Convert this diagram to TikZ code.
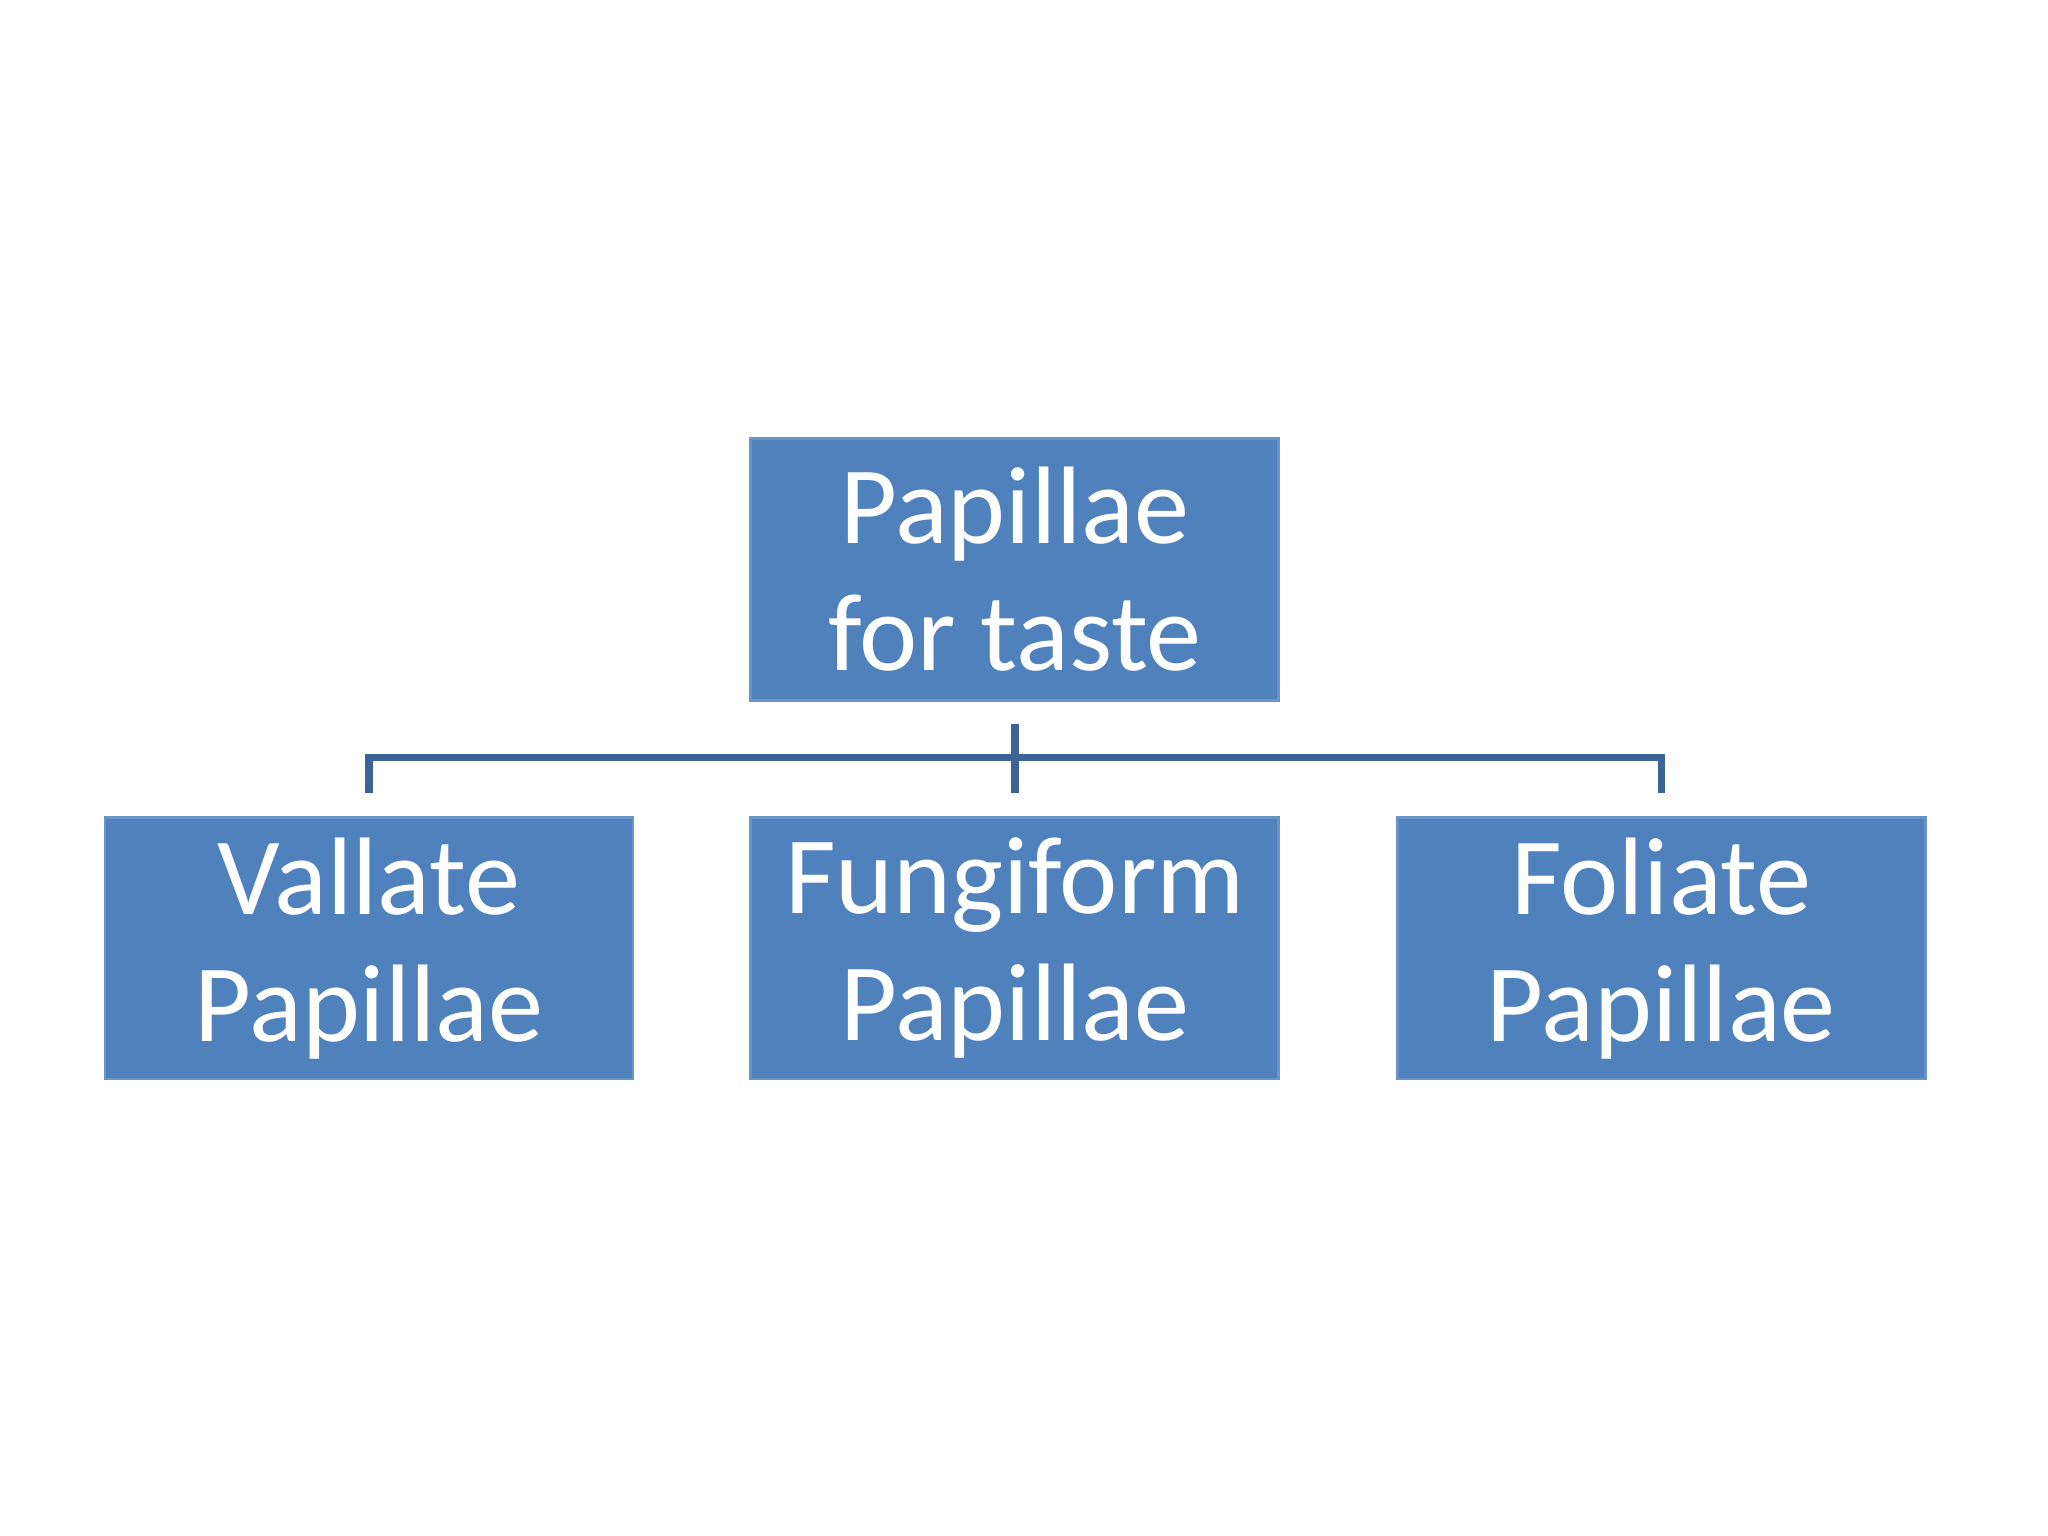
\documentclass[tikz,border=0pt]{standalone}
\usepackage{fontspec}
\setmainfont{Carlito}
\definecolor{boxblue}{HTML}{4F81BD}
\definecolor{edgeblue}{HTML}{3C6595}
\begin{document}
\begin{tikzpicture}[x=0.01cm,y=-0.01cm,
  pbox/.style={fill=boxblue,draw=boxblue!85!white,line width=0.6pt,minimum width=4.04cm,minimum height=2.0cm,
    text=white,align=center,font=\fontsize{24}{27.6}\selectfont,inner sep=0pt},
  conn/.style={draw=edgeblue,line width=1.6pt}]
\useasboundingbox (0,0) rectangle (1568,1176);
\node[pbox] (top) at (777,436) {Papillae\\for taste};
\node[pbox] (v) at (282.5,726) {Vallate\\Papillae};
\node[pbox] (f) at (777,726) {Fungiform\\Papillae};
\node[pbox] (fo) at (1272,726) {Foliate\\Papillae};
\coordinate (j) at (777,580);
\draw[conn] ([yshift=-5pt]top.south) -- (j);
\draw[conn] ([yshift=5pt]v.north) |- (j) -| ([yshift=5pt]fo.north);
\draw[conn] (j) -- ([yshift=5pt]f.north);
\end{tikzpicture}
\end{document}
